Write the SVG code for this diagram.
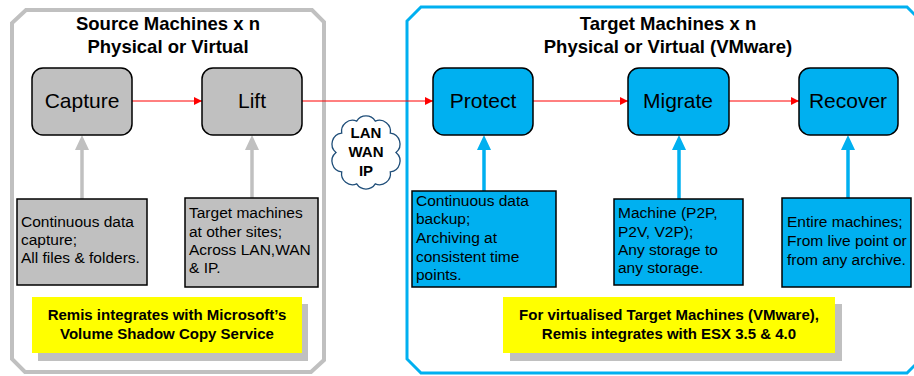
<svg xmlns="http://www.w3.org/2000/svg" width="914" height="376" viewBox="0 0 914 376">
<defs>
<style>
.title{font-family:"Liberation Sans",Arial,sans-serif;font-weight:bold;font-size:18.5px;fill:#000;text-anchor:middle}
.node rect{stroke:#000;stroke-width:1.5}
.gray{fill:#c0c0c0}
.blue{fill:#00b0f0}
.nlabel{font-family:"Liberation Sans",Arial,sans-serif;font-size:21px;fill:#000;text-anchor:middle}
.desc{font-family:"Liberation Sans",Arial,sans-serif;font-size:15.5px;fill:#000}
.note{font-family:"Liberation Sans",Arial,sans-serif;font-weight:bold;font-size:15px;fill:#000;text-anchor:middle}
.cloudt{font-family:"Liberation Sans",Arial,sans-serif;font-weight:bold;font-size:15px;fill:#000;text-anchor:middle}
.red{stroke:#ff0000;stroke-width:1;fill:none}
.gup{stroke:#c0c0c0;stroke-width:3.5;fill:none}
.bup{stroke:#00b0f0;stroke-width:3.5;fill:none}
</style>
<marker id="ar" markerUnits="userSpaceOnUse" markerWidth="8" markerHeight="8" refX="8" refY="4" orient="auto">
<path d="M0,0 L8,4 L0,8 z" fill="#ff0000"/>
</marker>
<marker id="ag" markerUnits="userSpaceOnUse" markerWidth="15" markerHeight="14" refX="10" refY="7" orient="auto">
<path d="M0,0 L15,7 L0,14 z" fill="#c0c0c0"/>
</marker>
<marker id="ab" markerUnits="userSpaceOnUse" markerWidth="15" markerHeight="14" refX="10" refY="7" orient="auto">
<path d="M0,0 L15,7 L0,14 z" fill="#00b0f0"/>
</marker>
</defs>
<rect width="914" height="376" fill="#fff"/>

<g id="source-container">
<polygon points="26,10 312,10 324,22 324,360 311,372 25,372 12,359 12,23" fill="none" stroke="#c0c0c0" stroke-width="4"/>
<text class="title" x="168" y="30">Source Machines x n</text>
<text class="title" x="168" y="53">Physical or Virtual</text>
</g>

<g id="target-container">
<polygon points="421,7 907,7 918,18 918,362 907,373 421,373 407,359 407,21" fill="none" stroke="#00b0f0" stroke-width="3"/>
<text class="title" x="668" y="30">Target Machines x n</text>
<text class="title" x="668" y="53">Physical or Virtual (VMware)</text>
</g>

<g id="connectors">
<line class="red" x1="132" y1="101" x2="202" y2="101" marker-end="url(#ar)"/>
<line class="red" x1="302" y1="101" x2="433" y2="101" marker-end="url(#ar)"/>
<line class="red" x1="533" y1="101" x2="628" y2="101" marker-end="url(#ar)"/>
<line class="red" x1="729" y1="101" x2="799" y2="101" marker-end="url(#ar)"/>
<line class="gup" x1="82" y1="199" x2="82" y2="140" marker-end="url(#ag)"/>
<line class="gup" x1="252" y1="198" x2="252" y2="140" marker-end="url(#ag)"/>
<line class="bup" x1="484" y1="191" x2="484" y2="140" marker-end="url(#ab)"/>
<line class="bup" x1="679" y1="199" x2="679" y2="140" marker-end="url(#ab)"/>
<line class="bup" x1="848" y1="198" x2="848" y2="140" marker-end="url(#ab)"/>
</g>

<g id="capture" class="node">
<rect class="gray" x="32" y="68" width="100" height="67" rx="11"/>
<text class="nlabel" x="82" y="108">Capture</text>
</g>
<g id="lift" class="node">
<rect class="gray" x="202" y="68" width="100" height="67" rx="11"/>
<text class="nlabel" x="252" y="108">Lift</text>
</g>
<g id="protect" class="node">
<rect class="blue" x="433" y="68" width="100" height="67" rx="11"/>
<text class="nlabel" x="483" y="108">Protect</text>
</g>
<g id="migrate" class="node">
<rect class="blue" x="628" y="68" width="101" height="67" rx="11"/>
<text class="nlabel" x="678" y="108">Migrate</text>
</g>
<g id="recover" class="node">
<rect class="blue" x="799" y="68" width="99" height="67" rx="11"/>
<text class="nlabel" x="848" y="108">Recover</text>
</g>

<g id="cloud">
<path d="M396,152.5 A11,11 0 0 1 390.3,171.9 A11,11 0 0 1 375.3,183.9 A11,11 0 0 1 356.7,183.9 A11,11 0 0 1 341.7,171.9 A11,11 0 0 1 336,152.5 A11,11 0 0 1 341.7,133.1 A11,11 0 0 1 356.7,121.1 A11,11 0 0 1 375.3,121.1 A11,11 0 0 1 390.3,133.1 A11,11 0 0 1 396,152.5 Z" fill="#fff" stroke="#1f4e79" stroke-width="1.3"/>
<text class="cloudt" x="366" y="138">LAN</text>
<text class="cloudt" x="366" y="157">WAN</text>
<text class="cloudt" x="366" y="176">IP</text>
</g>

<g id="capture-desc" class="node">
<rect class="gray" x="17" y="199" width="130" height="86"/>
<text class="desc" x="21" y="227">Continuous data</text>
<text class="desc" x="21" y="245">capture;</text>
<text class="desc" x="21" y="263">All files &amp; folders.</text>
</g>
<g id="lift-desc" class="node">
<rect class="gray" x="185" y="198" width="133" height="89"/>
<text class="desc" x="189" y="218">Target machines</text>
<text class="desc" x="189" y="237">at other sites;</text>
<text class="desc" x="189" y="255">Across LAN,WAN</text>
<text class="desc" x="189" y="273">&amp; IP.</text>
</g>
<g id="protect-desc" class="node">
<rect class="blue" x="412" y="191" width="144" height="96"/>
<text class="desc" x="416" y="206">Continuous data</text>
<text class="desc" x="416" y="224">backup;</text>
<text class="desc" x="416" y="243">Archiving at</text>
<text class="desc" x="416" y="262">consistent time</text>
<text class="desc" x="416" y="280">points.</text>
</g>
<g id="migrate-desc" class="node">
<rect class="blue" x="614" y="199" width="129" height="86"/>
<text class="desc" x="618" y="218">Machine (P2P,</text>
<text class="desc" x="618" y="237">P2V, V2P);</text>
<text class="desc" x="618" y="255">Any storage to</text>
<text class="desc" x="618" y="273">any storage.</text>
</g>
<g id="recover-desc" class="node">
<rect class="blue" x="782" y="198" width="129" height="89"/>
<text class="desc" x="787" y="227">Entire machines;</text>
<text class="desc" x="787" y="246">From live point or</text>
<text class="desc" x="787" y="265">from any archive.</text>
</g>

<g id="source-note">
<rect x="38" y="304" width="270" height="57" fill="#c0c0c0"/>
<rect x="32" y="297" width="270" height="56" fill="#ffff00"/>
<text class="note" x="167" y="320">Remis integrates with Microsoft’s</text>
<text class="note" x="167" y="339">Volume Shadow Copy Service</text>
</g>
<g id="target-note">
<rect x="510" y="304" width="332" height="57" fill="#c0c0c0"/>
<rect x="503" y="297" width="332" height="56" fill="#ffff00"/>
<text class="note" x="669" y="320">For virtualised Target Machines (VMware),</text>
<text class="note" x="669" y="339">Remis integrates with ESX 3.5 &amp; 4.0</text>
</g>
</svg>
